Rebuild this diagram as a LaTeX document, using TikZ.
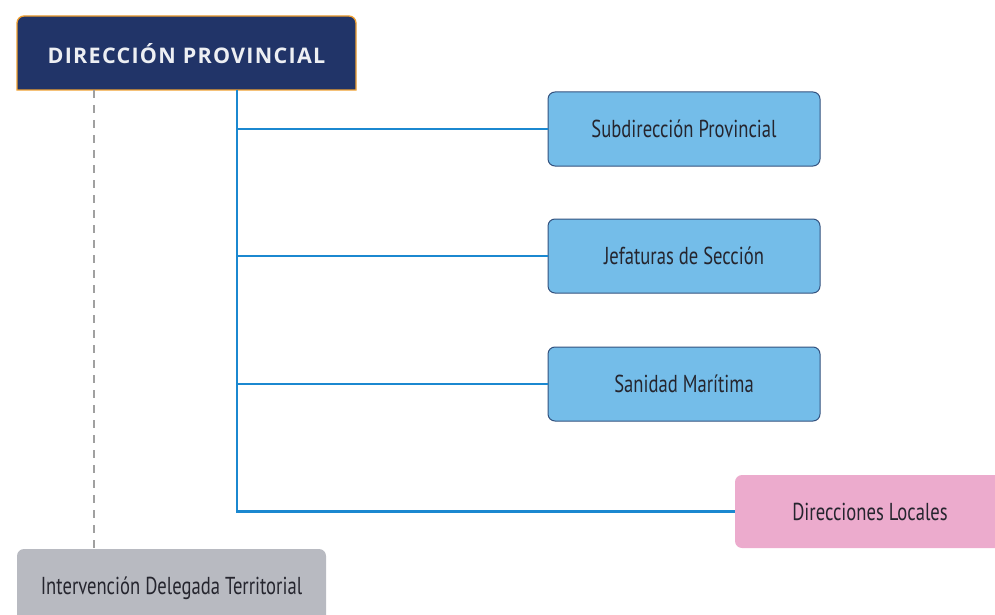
\documentclass[tikz,border=0pt]{standalone}
\usepackage{fontspec}
\setmainfont{PT Sans}[FakeStretch=0.76]
\newfontfamily\cabecera{Open Sans}[LetterSpace=6]

\definecolor{azulosc}{HTML}{213468}
\definecolor{naranja}{HTML}{F0A030}
\definecolor{azulcaja}{HTML}{74BDE9}
\definecolor{bordecaja}{HTML}{34527F}
\definecolor{azullinea}{HTML}{1B88D0}
\definecolor{rosa}{HTML}{ECABCD}
\definecolor{grisclaro}{HTML}{B8BAC1}
\definecolor{grisguia}{HTML}{A0A0A0}
\definecolor{texto}{HTML}{25252E}

\tikzset{
  caja/.style={draw=bordecaja, fill=azulcaja, line width=1pt, rounded corners=7pt,
    minimum width=272pt, minimum height=74pt, text=texto, font=\fontsize{24.5}{26}\selectfont},
  rama/.style={draw=azullinea, line width=2.4pt},
}

\begin{document}
\begin{tikzpicture}[x=1pt, y=-1pt]
\useasboundingbox (0,0) rectangle (995,615);
\clip (0,0) rectangle (995,615);

% cabecera
\path[fill=azulosc, draw=naranja, line width=1.3pt] (17,90) {[rounded corners=7pt] -- (17,16) -- (356,16)} -- (356,90) -- cycle;
\node[minimum width=339pt, minimum height=74pt, text=white!92!azulosc,
  font=\cabecera\fontsize{21.5}{23}\selectfont\bfseries] (dirprov) at (186.5,53.5) {DIRECCIÓN PROVINCIAL};

% dependencias
\node[caja] (subdir) at (684,129) {Subdirección Provincial};
\node[caja] (jefat) at (684,256) {Jefaturas de Sección};
\node[caja] (sanidad) at (684,384) {Sanidad Marítima};
\node[caja, draw=none, fill=rosa, minimum width=270pt, minimum height=73pt] (dirloc) at (870,511.5) {Direcciones Locales};
\node[caja, draw=none, fill=grisclaro, minimum width=309pt, minimum height=78pt] (interv) at (171.5,588) {Intervención Delegada Territorial};

% conectores
\coordinate (tronco) at (237,90);
\foreach \n in {subdir,jefat,sanidad,dirloc}
  \draw[rama] (tronco) |- (\n.west);
\coordinate (guia) at (94,90);
\draw[grisguia, line width=2.2pt, dash pattern=on 8pt off 7pt] (guia) -- (guia |- interv.north);
\end{tikzpicture}
\end{document}
